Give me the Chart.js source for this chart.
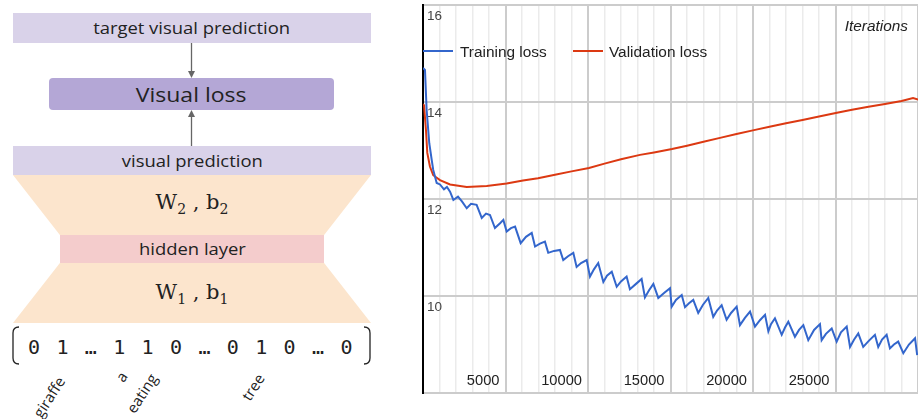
<!DOCTYPE html>
<html>
<head>
<meta charset="utf-8">
<script src="https://cdn.jsdelivr.net/npm/chart.js@4.4.1/dist/chart.umd.min.js"></script>
<style>
  body { margin: 0; width: 918px; height: 419px; position: relative; overflow: hidden; background: #fff; font-family: "Open Sans", sans-serif; color: #222; }
  .box { position: absolute; display: flex; align-items: center; justify-content: center; font-size: 16px; }
  .box span { display: inline-block; transform: scaleX(1.15); }
  .trap { position: absolute; left: 13px; width: 358px; height: 60px; background: #fce5cd; }
  .w { position: absolute; left: 13px; width: 358px; text-align: center; font-family: "DejaVu Serif", serif; font-size: 21px; }
  .w sub { font-size: 14px; vertical-align: -5px; }
  .word { position: absolute; font-size: 15px; white-space: nowrap; transform-origin: 100% 50%; transform: rotate(-57deg); line-height: 16px; }
  #vec { position: absolute; left: 28px; top: 334px; font-family: "DejaVu Sans Mono", monospace; font-size: 20px; letter-spacing: 2.16px; line-height: 26px; white-space: pre; }
  #chartBox { position: absolute; left: 400px; top: 0; width: 518px; height: 419px; }
  .leg { position: absolute; font-family: "Liberation Sans", Arial, sans-serif; font-size: 15.4px; line-height: 16px; color: #222; white-space: nowrap; }
  .legline { position: absolute; height: 2px; width: 30px; }
</style>
</head>
<body>
<div class="box" style="left:13px;top:13px;width:358px;height:30px;background:#d9d2e9;"><span>target visual prediction</span></div>
<div class="box" style="left:49px;top:78px;width:285px;height:32px;background:#b4a7d6;border-radius:4px;font-size:20px;"><span>Visual loss</span></div>
<div class="box" style="left:13px;top:146px;width:358px;height:29px;background:#d9d2e9;"><span>visual prediction</span></div>
<div class="trap" style="top:175px;clip-path:polygon(0 0,100% 0,86.9% 100%,13.1% 100%);"></div>
<div class="box" style="left:60px;top:235px;width:264px;height:28px;background:#f4cccc;"><span>hidden layer</span></div>
<div class="trap" style="top:263px;clip-path:polygon(13.1% 0,86.9% 0,100% 100%,0 100%);"></div>
<div class="w" style="top:190px;">W<sub>2</sub> , b<sub>2</sub></div>
<div class="w" style="top:280px;">W<sub>1</sub> , b<sub>1</sub></div>
<svg style="position:absolute;left:0;top:0" width="390" height="419">
  <g stroke="#666" stroke-width="1.3" fill="#666">
    <line x1="191.5" y1="43" x2="191.5" y2="72"/>
    <path d="M188 71 L195 71 L191.5 78 Z" stroke="none"/>
    <line x1="191.5" y1="146" x2="191.5" y2="117"/>
    <path d="M188 117 L195 117 L191.5 110 Z" stroke="none"/>
  </g>
  <g stroke="#222" stroke-width="1.3" fill="none">
    <path d="M19 327 Q13 327 13 333 L13 358 Q13 364 19 364"/>
    <path d="M364 327 Q370 327 370 333 L370 358 Q370 364 364 364"/>
  </g>
</svg>
<div id="vec"></div>
<div id="words"></div>

<div id="chartBox"><canvas id="lossChart"></canvas></div>
<div class="legline" style="left:423px;top:50px;background:#3366cc;"></div>
<div class="leg" style="left:460px;top:44px;">Training loss</div>
<div class="legline" style="left:573px;top:50px;background:#dc3912;"></div>
<div class="leg" style="left:609px;top:44px;">Validation loss</div>
<div class="leg" style="right:10px;top:18px;font-style:italic;">Iterations</div>

<script>
const vectorTokens = ['0', '1', '…', '1', '1', '0', '…', '0', '1', '0', '…', '0'];
const wordLabels = [
    { text: 'giraffe', right: 61, mid: 378 },
    { text: 'a', right: 123, mid: 373 },
    { text: 'eating', right: 153, mid: 375 },
    { text: 'tree', right: 260, mid: 375 }
];

const trainIter = [0, 120, 220, 380, 530, 620, 830, 1030, 1270, 1450,
    1640, 1840, 2120, 2360, 2650, 2910, 3250, 3560, 3820, 4060,
    4360, 4670, 4870, 5070, 5330, 5580, 5920, 6240, 6590, 6790,
    7090, 7390, 7590, 7940, 8300, 8500, 8790, 9110, 9310, 9580,
    9920, 10120, 10360, 10620, 10930, 11150, 11440, 11740, 12000, 12340,
    12540, 12910, 13250, 13450, 13700, 13960, 14260, 14610, 14970, 15070,
    15330, 15680, 15880, 16120, 16380, 16680, 16970, 17290, 17590, 17820,
    18100, 18400, 18670, 19010, 19210, 19510, 19820, 20120, 20420, 20730,
    20930, 21090, 21330, 21740, 21940, 22140, 22540, 22790, 23050, 23350,
    23700, 24060, 24160, 24420, 24770, 25070, 25330, 25680, 25880, 26120,
    26380, 26680, 27030, 27390, 27590, 27820, 28100, 28300, 28540, 28800,
    29110, 29450, 29820, 29950];
const trainLoss = [14.70, 14.66, 13.84, 13.15, 12.80, 12.60, 12.33, 12.30, 12.20, 12.25,
    12.15, 11.98, 12.05, 11.95, 11.81, 11.90, 11.88, 11.61, 11.70, 11.67,
    11.40, 11.50, 11.57, 11.33, 11.40, 11.43, 11.09, 11.22, 11.30, 11.02,
    11.08, 11.12, 10.89, 10.93, 10.95, 10.74, 10.82, 10.89, 10.60, 10.68,
    10.74, 10.40, 10.55, 10.68, 10.29, 10.42, 10.50, 10.19, 10.30, 10.40,
    10.14, 10.25, 10.35, 9.97, 10.12, 10.25, 9.96, 10.06, 10.16, 9.78,
    9.92, 10.02, 9.77, 9.85, 9.92, 9.65, 9.82, 9.96, 9.57, 9.70,
    9.81, 9.51, 9.65, 9.78, 9.40, 9.55, 9.68, 9.37, 9.50, 9.61,
    9.27, 9.42, 9.54, 9.20, 9.35, 9.47, 9.16, 9.30, 9.40, 9.09,
    9.30, 9.42, 9.09, 9.22, 9.33, 9.06, 9.25, 9.37, 8.95, 9.10,
    9.23, 8.95, 9.08, 9.20, 8.95, 9.10, 9.20, 8.92, 9.00, 9.06,
    8.82, 9.00, 9.13, 8.78];

const valIter = [0, 60, 180, 260, 420, 620, 1030, 1640, 2650, 3860,
    5070, 6060, 6970, 8000, 9000, 10060, 11000, 12000, 13150, 14000,
    15090, 16000, 17000, 18000, 19000, 20060, 21000, 22000, 23000, 24000,
    25090, 26000, 27000, 28000, 29000, 29700, 30000];
const valLoss = [13.95, 13.94, 13.42, 12.95, 12.67, 12.49, 12.39, 12.30, 12.25, 12.27,
    12.32, 12.38, 12.43, 12.50, 12.57, 12.64, 12.73, 12.82, 12.91, 12.96,
    13.03, 13.10, 13.18, 13.26, 13.34, 13.42, 13.49, 13.56, 13.63, 13.70,
    13.78, 13.84, 13.90, 13.96, 14.02, 14.08, 14.05];

const xTickLabels = [5000, 10000, 15000, 20000, 25000];
const yTickLabels = [10, 12, 14, 16];

// left diagram text
document.getElementById('vec').textContent = vectorTokens.join(' ');
const words = document.getElementById('words');
wordLabels.forEach(w => {
    const d = document.createElement('div');
    d.className = 'word';
    d.textContent = w.text;
    d.style.right = (918 - w.right) + 'px';
    d.style.top = (w.mid - 8) + 'px';
    words.appendChild(d);
});

const flatten = (scale, prop) => {
    scale[prop] = 0;
    scale.paddingTop = 0;
    scale.paddingBottom = 0;
    scale.paddingLeft = 0;
    scale.paddingRight = 0;
};

const ctx = document.getElementById('lossChart').getContext('2d');
new Chart(ctx, {
    type: 'line',
    data: {
        datasets: [
            {
                label: 'Training loss',
                data: trainIter.map((x, i) => ({ x: x, y: trainLoss[i] })),
                borderColor: '#3366cc',
                borderWidth: 2,
                pointRadius: 0,
                tension: 0
            },
            {
                label: 'Validation loss',
                data: valIter.map((x, i) => ({ x: x, y: valLoss[i] })),
                borderColor: '#dc3912',
                borderWidth: 2,
                pointRadius: 0,
                tension: 0
            }
        ]
    },
    options: {
        responsive: true,
        maintainAspectRatio: false,
        animation: false,
        layout: { padding: { left: 23, top: 5, right: 0, bottom: 26 } },
        plugins: { legend: { display: false }, tooltip: { enabled: false } },
        scales: {
            x: {
                type: 'linear',
                min: 0,
                max: 30000,
                afterFit: (scale) => flatten(scale, 'height'),
                border: { display: false },
                grid: {
                    drawTicks: false,
                    color: (c) => {
                        const v = c.tick ? c.tick.value : 0;
                        if (v === 0) return 'rgba(0,0,0,0)';
                        return v % 5000 === 0 ? '#cccccc' : '#ebebeb';
                    },
                    lineWidth: (c) => (c.tick && c.tick.value % 5000 === 0) ? 2 : 1.5
                },
                ticks: {
                    stepSize: 1000,
                    autoSkip: false,
                    maxRotation: 0,
                    mirror: true,
                    align: 'end',
                    labelOffset: -6,
                    padding: 3,
                    color: '#222',
                    font: { family: 'Liberation Sans', size: 14.7 },
                    callback: (v) => xTickLabels.includes(v) ? String(v) : ''
                }
            },
            y: {
                min: 8,
                max: 16,
                afterFit: (scale) => flatten(scale, 'width'),
                border: { display: true, color: '#000', width: 2 },
                grid: { drawTicks: false, color: '#cccccc', lineWidth: 2 },
                ticks: {
                    stepSize: 2,
                    mirror: true,
                    padding: 4,
                    labelOffset: 11,
                    color: '#444',
                    font: { family: 'Liberation Sans', size: 13.5 },
                    callback: (v) => yTickLabels.includes(v) ? String(v) : ''
                }
            }
        }
    }
});
</script>
</body>
</html>
